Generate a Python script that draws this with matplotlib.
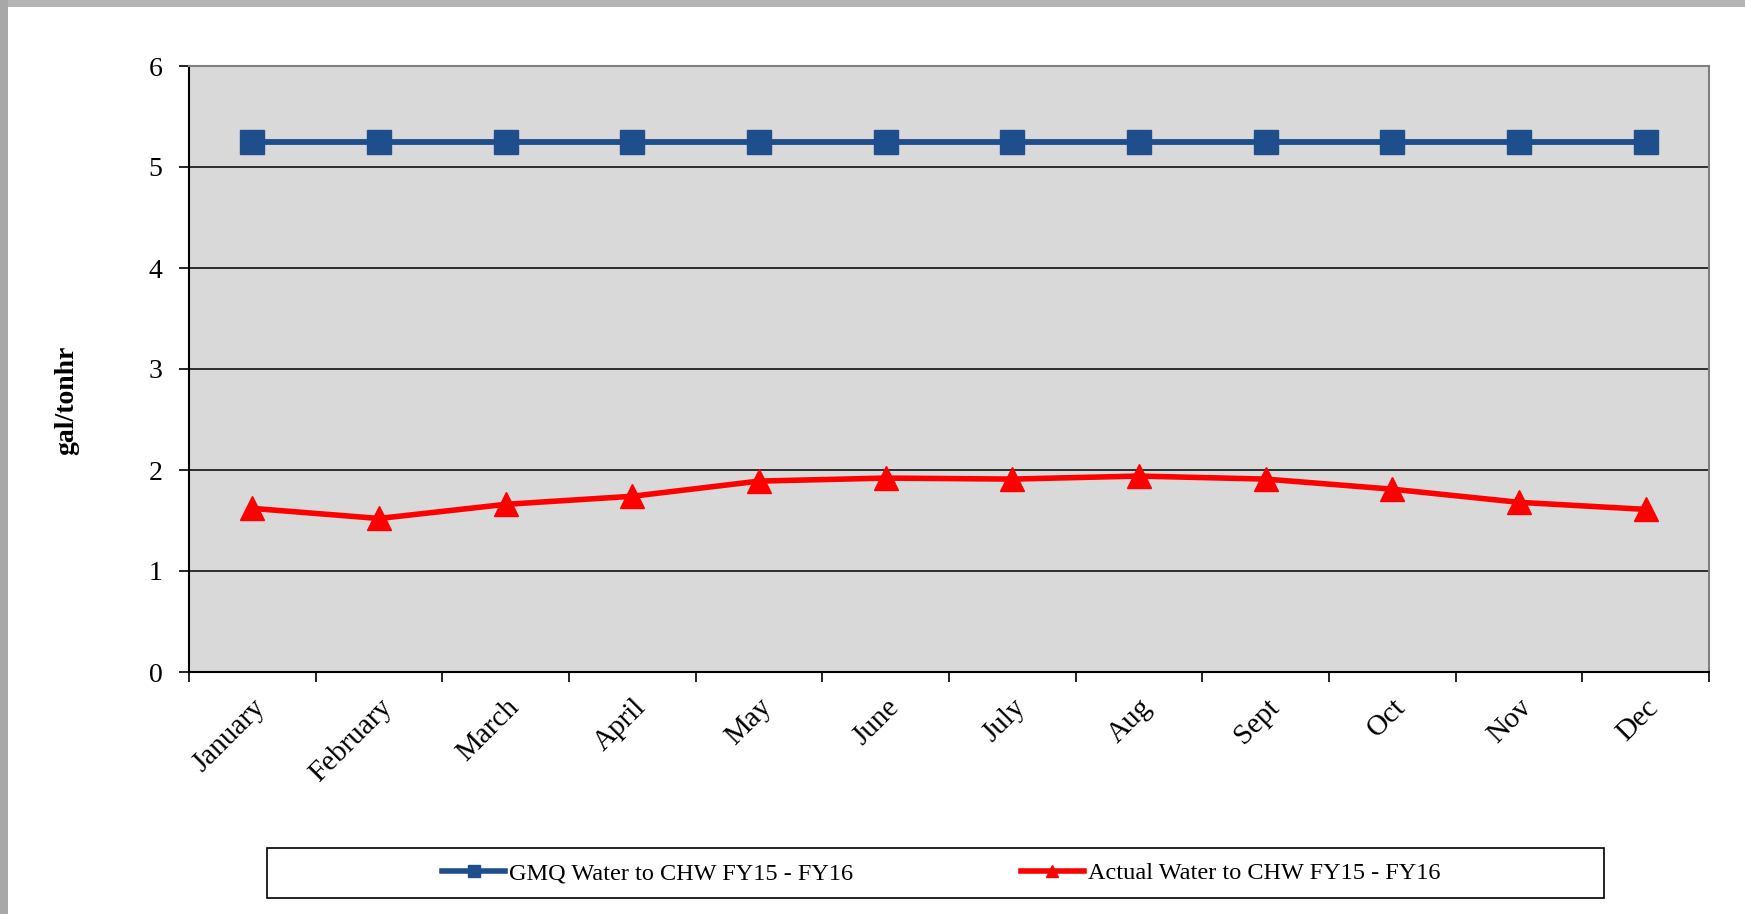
import matplotlib
matplotlib.use("Agg")
import matplotlib.pyplot as plt
import matplotlib.transforms as mtransforms
from matplotlib.patches import Rectangle
from matplotlib.lines import Line2D

# data
months = ["January", "February", "March", "April", "May", "June",
          "July", "Aug", "Sept", "Oct", "Nov", "Dec"]
gmq = [5.25, 5.25, 5.25, 5.25, 5.25, 5.25, 5.25, 5.25, 5.25, 5.25, 5.25, 5.25]
actual = [1.62, 1.52, 1.66, 1.74, 1.89, 1.92, 1.91, 1.94, 1.91, 1.81, 1.68, 1.61]
yticks = [0, 1, 2, 3, 4, 5, 6]

plt.rcParams['font.family'] = ['Liberation Serif', 'DejaVu Serif']

fig = plt.figure(figsize=(17.45, 9.14), dpi=100, facecolor="white")

# grey window edges (top and left)
fig.patches.append(Rectangle((0, 1 - 7 / 914), 1, 7 / 914, transform=fig.transFigure,
                             facecolor="#b5b5b5", edgecolor="none", zorder=0))
fig.patches.append(Rectangle((0, 0), 8 / 1745, 1, transform=fig.transFigure,
                             facecolor="#a8a8a8", edgecolor="none", zorder=0))

ax = fig.add_axes([189 / 1745, 1 - 672 / 914, (1709 - 189) / 1745, (672 - 66) / 914])
ax.set_facecolor("#d9d9d9")

x = list(range(len(months)))
ax.plot(x, gmq, color="#1f4e8c", lw=4.2, marker="s", markersize=17,
        label="GMQ Water to CHW FY15 - FY16", zorder=3, clip_on=False)
ax.plot(x, actual, color="#ff0000", lw=4, marker="^", markersize=17,
        label="Actual Water to CHW FY15 - FY16", zorder=3, clip_on=False)

ax.set_xlim(-0.5, len(months) - 0.5)
ax.set_ylim(0, 6)
ax.set_yticks(yticks)
ax.yaxis.grid(True, color="black", lw=1.1)
ax.set_axisbelow(True)

# category labels centred, tick marks between categories
ax.set_xticks(x)
ax.set_xticklabels(months, rotation=45, ha="right", va="top", rotation_mode="anchor",
                   fontsize=21)
shift = mtransforms.ScaledTranslation(-4 / 72, 0, fig.dpi_scale_trans)
for lab in ax.get_xticklabels():
    lab.set_transform(lab.get_transform() + shift)
ax.set_xticks([i - 0.5 for i in range(len(months) + 1)], minor=True)
ax.tick_params(axis="x", which="major", length=0, pad=16)
ax.tick_params(axis="x", which="minor", length=7, width=1.2, direction="out", color="black")
ax.tick_params(axis="y", length=7, width=1.2, direction="out", labelsize=20, pad=12)

for s in ["left", "bottom"]:
    ax.spines[s].set_color("black")
    ax.spines[s].set_linewidth(1.5)
for s in ["top", "right"]:
    ax.spines[s].set_color("#808080")
    ax.spines[s].set_linewidth(1.5)

fig.text(67 / 1745, 1 - 400 / 914, "gal/tonhr", rotation=90, ha="center", va="center",
         fontsize=20, fontweight="bold")

# legend box
fig.patches.append(Rectangle((267 / 1745, 1 - 898 / 914), (1604 - 267) / 1745, 50 / 914,
                             transform=fig.transFigure, facecolor="white",
                             edgecolor="black", lw=1.2, zorder=1))
handles = [Line2D([], [], color="#1f4e8c", lw=4, marker="s", markersize=9),
           Line2D([], [], color="#ff0000", lw=4, marker="^", markersize=9)]
fig.legend(handles, ["GMQ Water to CHW FY15 - FY16", "Actual Water to CHW FY15 - FY16"],
           loc="center", bbox_to_anchor=(941 / 1745, 1 - 873 / 914), ncol=2,
           frameon=False, fontsize=17.5, handlelength=2.6, handletextpad=0.15,
           columnspacing=6.9)

fig.savefig("out.png", dpi=100, facecolor="white")
